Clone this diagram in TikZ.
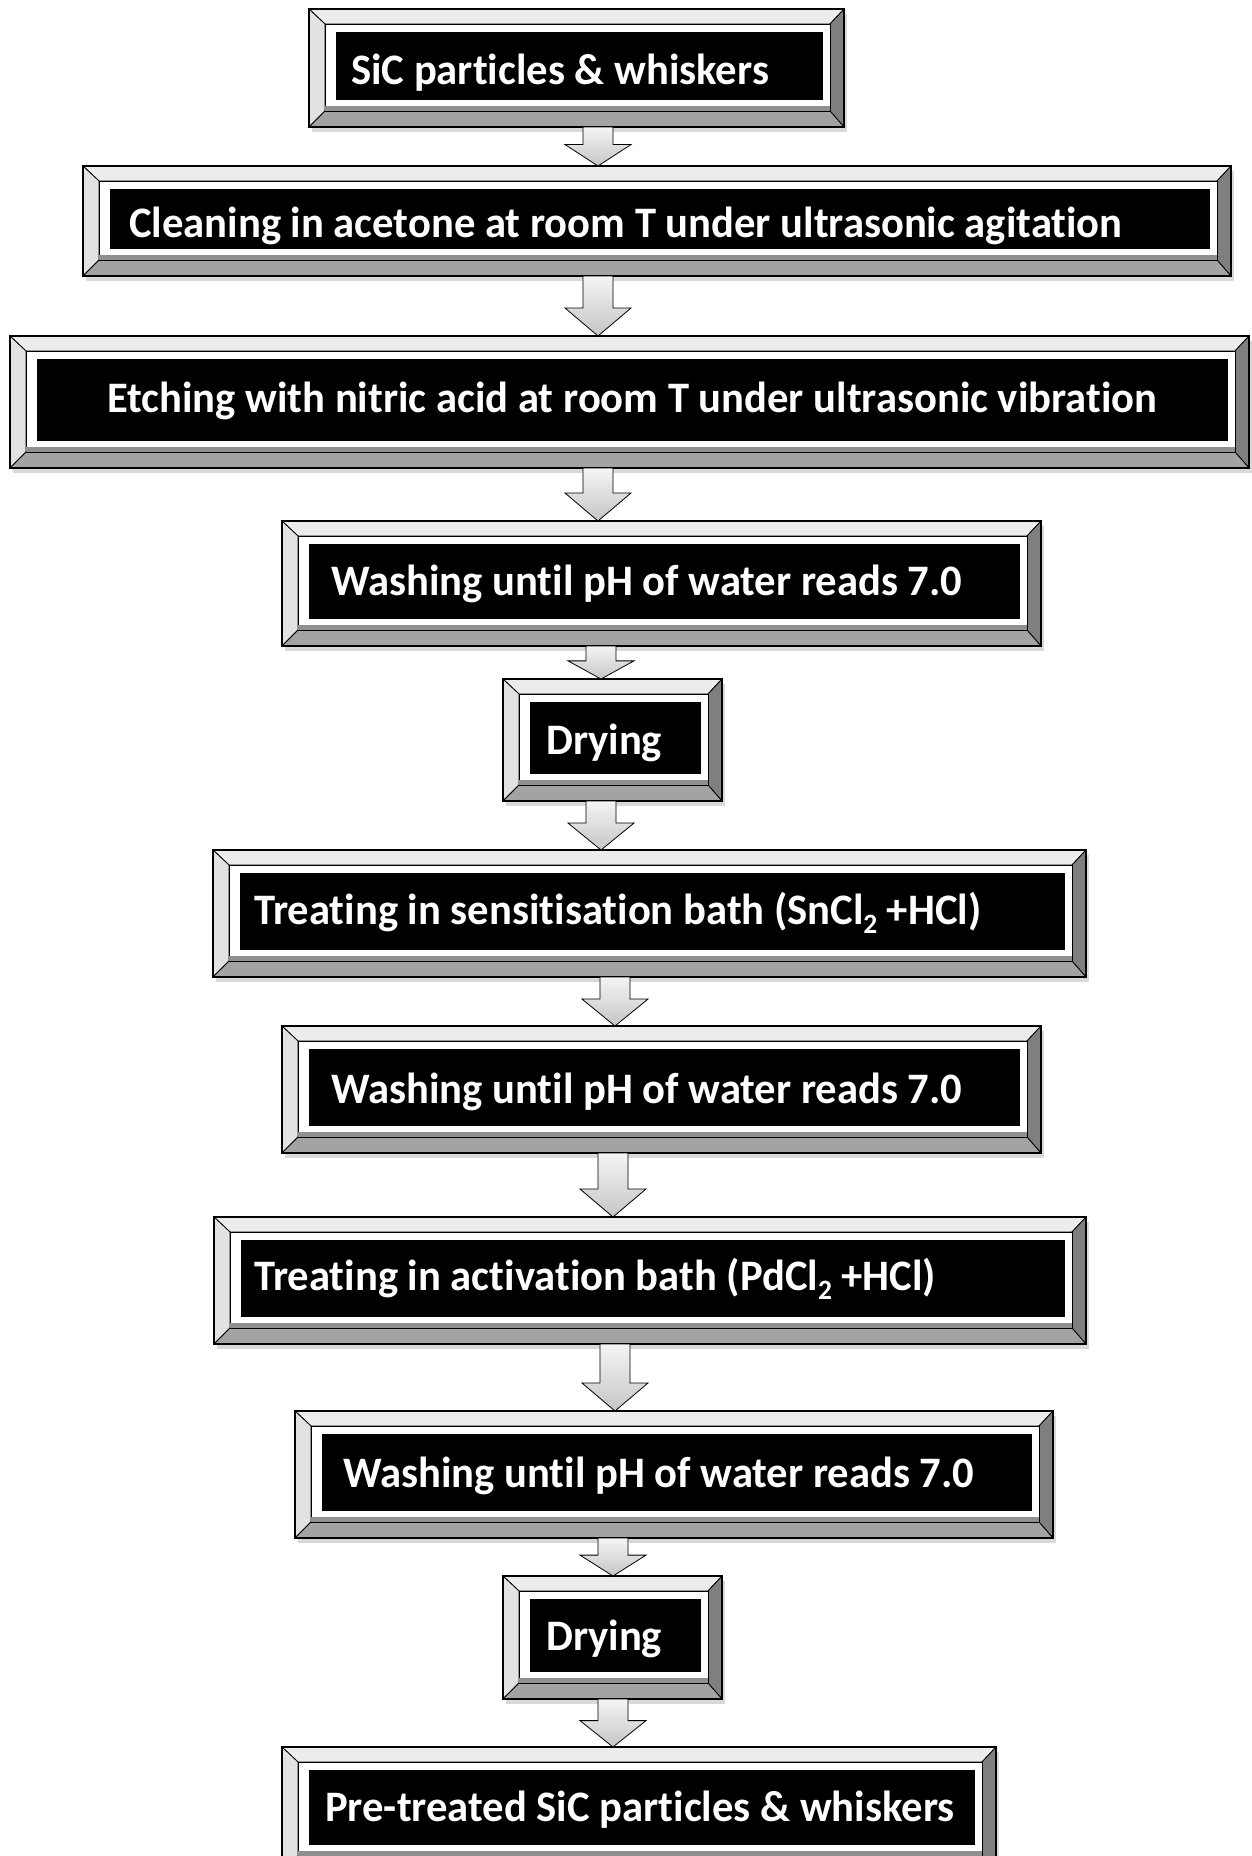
\documentclass[tikz,border=0pt]{standalone}
\usepackage{fontspec}
\setmainfont{Carlito}[Ligatures=NoCommon]
\usetikzlibrary{calc}
\definecolor{bvtop}{HTML}{ECECEC}
\definecolor{bvleft}{HTML}{E2E2E2}
\definecolor{bvright}{HTML}{7F7F7F}
\definecolor{bvbot}{HTML}{A3A3A3}
\definecolor{bvstrip}{HTML}{909090}
\tikzset{
  boxframe/.style={inner sep=0pt, outer sep=0pt},
  bvedge/.style={draw=black, line width=0.8pt, line join=miter},
  outerline/.style={draw=black, line width=1.6pt},
  innerwhite/.style={fill=white, draw=black, line width=0.8pt},
  stripsty/.style={fill=bvstrip},
  blackpanel/.style={fill=black},
  txt/.style={font=\fontsize{43.5}{48}\selectfont\bfseries, text=white, inner sep=0pt, text height=27pt, text depth=0pt, anchor=west},
  arrowsty/.style={draw=black, line width=0.8pt, top color=gray!8, bottom color=gray!45, line join=miter},
  shadowsty/.style={fill=black, opacity=0.15}
}
\newcommand\bevelbox[8]{%
  \fill[shadowsty] ({#2+3},{#3+5}) rectangle ({#4+3},{#5+5});
  \node[boxframe, minimum width={(#4-#2)*1pt}, minimum height={(#5-#3)*1pt}] (#1) at ({(#2+#4)/2},{(#3+#5)/2}) {};
  \path[bvedge, fill=bvtop] (#1.north west) -- (#1.north east) -- ([shift={(-14,15)}]#1.north east) -- ([shift={(16,15)}]#1.north west) -- cycle;
  \path[bvedge, fill=bvleft] (#1.north west) -- ([shift={(16,15)}]#1.north west) -- ([shift={(16,-16)}]#1.south west) -- (#1.south west) -- cycle;
  \path[bvedge, fill=bvright] (#1.north east) -- ([shift={(-14,15)}]#1.north east) -- ([shift={(-14,-16)}]#1.south east) -- (#1.south east) -- cycle;
  \path[bvedge, fill=bvbot] (#1.south west) -- ([shift={(16,-16)}]#1.south west) -- ([shift={(-14,-16)}]#1.south east) -- (#1.south east) -- cycle;
  \path[outerline] (#1.north west) rectangle (#1.south east);
  \path[innerwhite] ([shift={(16,15)}]#1.north west) rectangle ([shift={(-14,-16)}]#1.south east);
  \path[stripsty] ([shift={(16.4,-21)}]#1.south west) rectangle ([shift={(-14.4,-16.4)}]#1.south east);
  \path[blackpanel] ([shift={(27,23)}]#1.north west) rectangle ([shift={(-21,-27)}]#1.south east);
  \node[txt] (#1t) at (#6,{(#3+#5)/2+#8}) {\scalebox{0.98}[1]{#7}};
}
\newcommand\barrow[3]{%
  \path[arrowsty] let \p1=(#2.south), \p2=(#3.north), \n1={min(28pt,0.55*(\y1-\y2))} in
    ({(#1-15)*1pt},\y1) -- ({(#1+15)*1pt},\y1) -- ({(#1+15)*1pt},{\y2+\n1}) -- ({(#1+33)*1pt},{\y2+\n1})
    -- ({#1*1pt},\y2) -- ({(#1-33)*1pt},{\y2+\n1}) -- ({(#1-15)*1pt},{\y2+\n1}) -- cycle;
}
\newcommand\subtwo{\raisebox{-9pt}{\fontsize{28}{30}\selectfont 2}}
\begin{document}
\begin{tikzpicture}[x=1pt,y=-1pt]
\useasboundingbox (0,0) rectangle (1252,1856);
\clip (0,0) rectangle (1252,1856);
\fill[white] (0,0) rectangle (1252,1856);
\bevelbox{b1}{309}{9}{844}{127}{351}{SiC particles \& whiskers}{3}
\bevelbox{b2}{83}{166}{1231}{276}{129}{Cleaning in acetone at room T under ultrasonic agitation}{3}
\bevelbox{b3}{10}{336}{1249}{468}{107}{Etching with nitric acid at room T under ultrasonic vibration}{-3}
\bevelbox{b4}{282}{521}{1041}{646}{331}{Washing until pH of water reads 7.0}{-1.5}
\bevelbox{b5}{503}{679}{722}{801}{546}{Drying}{1}
\bevelbox{b6}{213}{850}{1086}{977}{254}{Treating in sensitisation bath (SnCl\subtwo{} +HCl)}{-3}
\bevelbox{b7}{282}{1026}{1041}{1153}{331}{Washing until pH of water reads 7.0}{0}
\bevelbox{b8}{214}{1217}{1086}{1344}{254}{Treating in activation bath (PdCl\subtwo{} +HCl)}{-4}
\bevelbox{b9}{295}{1411}{1053}{1538}{343}{Washing until pH of water reads 7.0}{-0.5}
\bevelbox{b10}{503}{1576}{722}{1699}{546}{Drying}{-0.5}
\bevelbox{b11}{282}{1747}{996}{1872}{325}{Pre-treated SiC particles \& whiskers}{-1.5}
\barrow{598}{b1}{b2}
\barrow{598}{b2}{b3}
\barrow{598}{b3}{b4}
\barrow{601}{b4}{b5}
\barrow{601}{b5}{b6}
\barrow{615}{b6}{b7}
\barrow{613}{b7}{b8}
\barrow{615}{b8}{b9}
\barrow{613}{b9}{b10}
\barrow{613}{b10}{b11}
\end{tikzpicture}
\end{document}
